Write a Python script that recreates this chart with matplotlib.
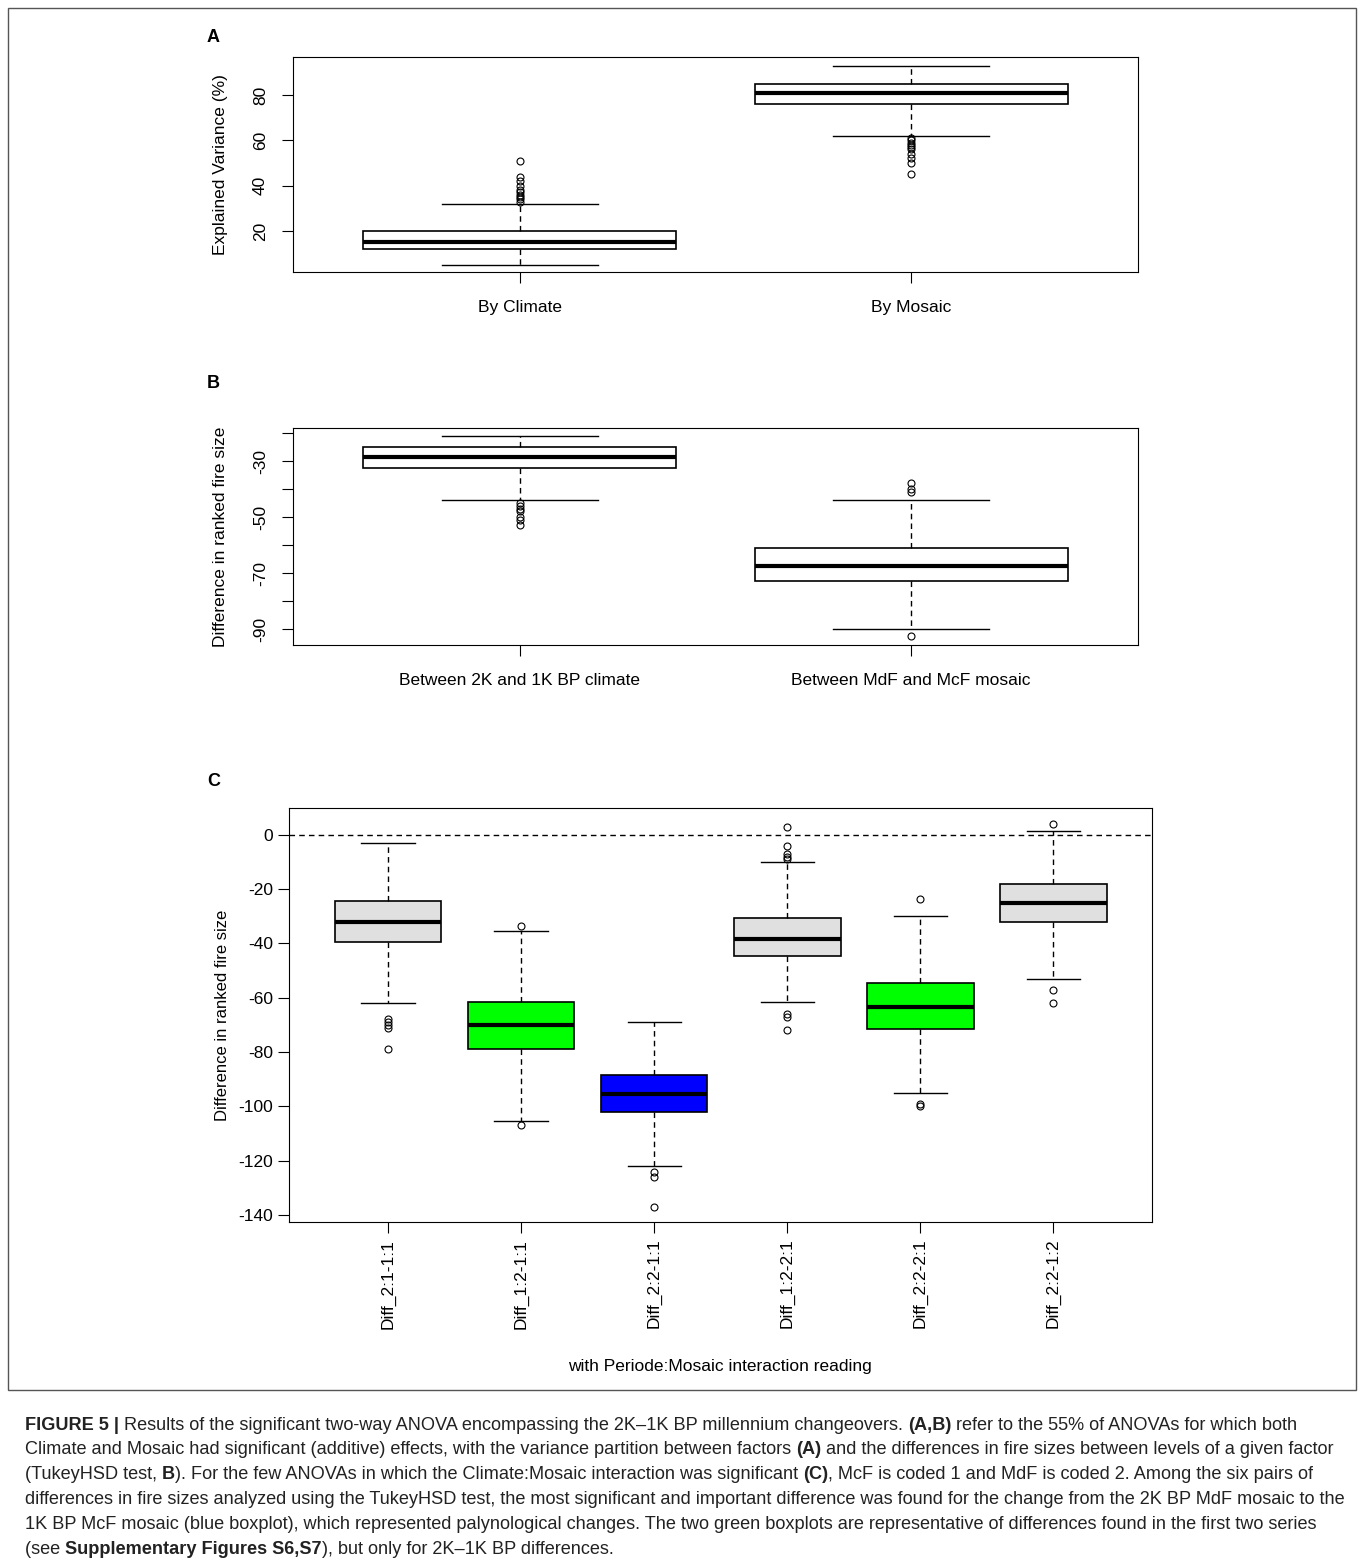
import matplotlib
matplotlib.use("Agg")
import matplotlib.pyplot as plt
from matplotlib.patches import Rectangle

plt.rcParams['font.family'] = ['Liberation Sans', 'DejaVu Sans']
plt.rcParams['axes.unicode_minus'] = False

# panel A: explained variance (%)
a_names = ["By Climate", "By Mosaic"]
a_stats = [
    dict(whislo=5, q1=12, med=15, q3=20, whishi=32,
         fliers=[33, 34, 35, 36, 37, 38, 40, 42, 44, 51]),
    dict(whislo=62, q1=76, med=81, q3=85, whishi=93,
         fliers=[45, 50, 52, 54, 56, 57, 58, 59, 60, 61]),
]
# panel B: difference in ranked fire size
b_names = ["Between 2K and 1K BP climate", "Between MdF and McF mosaic"]
b_stats = [
    dict(whislo=-44, q1=-32.5, med=-28.5, q3=-25, whishi=-21,
         fliers=[-45, -46, -47, -48, -50, -51, -53]),
    dict(whislo=-90, q1=-73, med=-67.5, q3=-61, whishi=-44,
         fliers=[-41, -40, -38, -92.5]),
]
# panel C: interaction differences
c_names = ["Diff_2:1-1:1", "Diff_1:2-1:1", "Diff_2:2-1:1",
           "Diff_1:2-2:1", "Diff_2:2-2:1", "Diff_2:2-1:2"]
c_stats = [
    dict(whislo=-62, q1=-39.5, med=-32, q3=-24.5, whishi=-3,
         fliers=[-68, -69, -70, -71, -79]),
    dict(whislo=-105.5, q1=-79, med=-70, q3=-61.5, whishi=-35.5,
         fliers=[-33.5, -107]),
    dict(whislo=-122, q1=-102, med=-95.5, q3=-88.5, whishi=-69,
         fliers=[-124, -126, -137]),
    dict(whislo=-61.5, q1=-44.5, med=-38.5, q3=-30.5, whishi=-10,
         fliers=[3, -4, -7, -8, -9, -66, -67, -72]),
    dict(whislo=-95, q1=-71.5, med=-63.5, q3=-54.5, whishi=-30,
         fliers=[-23.5, -99, -100]),
    dict(whislo=-53, q1=-32, med=-25, q3=-18, whishi=1.5,
         fliers=[4, -57, -62]),
]
c_colors = ["#e0e0e0", "#00ff00", "#0000ff", "#e0e0e0", "#00ff00", "#e0e0e0"]

W, H = 1360, 1566
fig = plt.figure(figsize=(13.6, 15.66), dpi=100)

def ax_px(l, t, r, b):
    return fig.add_axes([l / W, 1 - b / H, (r - l) / W, (b - t) / H])

def draw_box(ax, stats, colors):
    bp = ax.bxp(stats, widths=0.8, patch_artist=True, showfliers=True,
                boxprops=dict(edgecolor='black', linewidth=1.2),
                medianprops=dict(color='black', linewidth=3),
                whiskerprops=dict(color='black', linestyle=(0, (4, 3)), linewidth=1),
                capprops=dict(color='black', linewidth=1),
                capwidths=0.4,
                flierprops=dict(marker='o', markerfacecolor='none',
                                markeredgecolor='black', markersize=5, markeredgewidth=0.8))
    for p, c in zip(bp['boxes'], colors):
        p.set_facecolor(c)
    return bp

tfs = 12.5

# ---- A
ax = ax_px(293, 57, 1138, 272)
for st, n in zip(a_stats, a_names):
    st['label'] = n
draw_box(ax, a_stats, ['white', 'white'])
ax.set_xlim(0.42, 2.58)
ax.set_ylim(1.9, 96.8)
ax.set_yticks([20, 40, 60, 80])
ax.set_yticklabels(['20', '40', '60', '80'], rotation=90, va='center', fontsize=tfs)
ax.tick_params(axis='x', labelsize=tfs, length=8, pad=12)
ax.tick_params(axis='y', length=8, pad=10)
ax.set_ylabel("Explained Variance (%)", fontsize=tfs, labelpad=18)
fig.text(207 / W, 1 - 37 / H, "A", fontsize=13, fontweight='bold', va='center')

# ---- B
ax = ax_px(293, 428, 1138, 645)
for st, n in zip(b_stats, b_names):
    st['label'] = n
draw_box(ax, b_stats, ['white', 'white'])
ax.set_xlim(0.42, 2.58)
ax.set_ylim(-95.7, -18.2)
yt = list(range(-90, -10, 10))
ax.set_yticks(yt)
ax.set_yticklabels([str(v) if v in (-30, -50, -70, -90) else '' for v in yt],
                   rotation=90, va='center', fontsize=tfs)
ax.tick_params(axis='x', labelsize=tfs, length=8, pad=12)
ax.tick_params(axis='y', length=8, pad=10)
ax.set_ylabel("Difference in ranked fire size", fontsize=tfs, labelpad=18)
fig.text(207 / W, 1 - 383 / H, "B", fontsize=13, fontweight='bold', va='center')

# ---- C
ax = ax_px(289, 808, 1152, 1222)
for st, n in zip(c_stats, c_names):
    st['label'] = n
draw_box(ax, c_stats, c_colors)
ax.axhline(0, color='black', linestyle=(0, (4, 3)), linewidth=1)
ax.set_xlim(0.257, 6.74)
ax.set_ylim(-142.6, 9.9)
ax.set_yticks(range(-140, 1, 20))
ax.tick_params(axis='y', labelsize=tfs, length=8)
ax.tick_params(axis='x', labelsize=tfs, length=8, pad=4, labelrotation=90)
ax.set_ylabel("Difference in ranked fire size", fontsize=12, labelpad=6)
fig.text(720 / W, 1 - 1367 / H, "with Periode:Mosaic interaction reading",
         fontsize=tfs, ha='center', va='center')
fig.text(207 / W, 1 - 782 / H, "C", fontsize=13, fontweight='bold', va='center')

# outer frame
fig.patches.append(Rectangle((8 / W, 1 - 1390 / H), (1356 - 8) / W, (1390 - 8) / H,
                             transform=fig.transFigure, fill=False,
                             edgecolor='#555555', linewidth=1))

# caption
caption = [
    [("FIGURE 5 | ", True), ("Results of the significant two-way ANOVA encompassing the 2K\u20131K BP millennium changeovers. ", False),
     ("(A,B)", True), (" refer to the 55% of ANOVAs for which both", False)],
    [("Climate and Mosaic had significant (additive) effects, with the variance partition between factors ", False),
     ("(A)", True), (" and the differences in fire sizes between levels of a given factor", False)],
    [("(TukeyHSD test, ", False), ("B", True),
     ("). For the few ANOVAs in which the Climate:Mosaic interaction was significant ", False),
     ("(C)", True), (", McF is coded 1 and MdF is coded 2. Among the six pairs of", False)],
    [("differences in fire sizes analyzed using the TukeyHSD test, the most significant and important difference was found for the change from the 2K BP MdF mosaic to the", False)],
    [("1K BP McF mosaic (blue boxplot), which represented palynological changes. The two green boxplots are representative of differences found in the first two series", False)],
    [("(see ", False), ("Supplementary Figures S6,S7", True), ("), but only for 2K\u20131K BP differences.", False)],
]
fig.canvas.draw()
r = fig.canvas.get_renderer()
for i, line in enumerate(caption):
    x = 25
    y = 1 - (1425 + i * 24.8) / H
    for txt, bold in line:
        t = fig.text(x / W, y, txt, fontsize=13.1, color='#222222', va='center',
                     fontweight='bold' if bold else 'normal')
        x += t.get_window_extent(r).width

fig.savefig("out.png", dpi=100)
